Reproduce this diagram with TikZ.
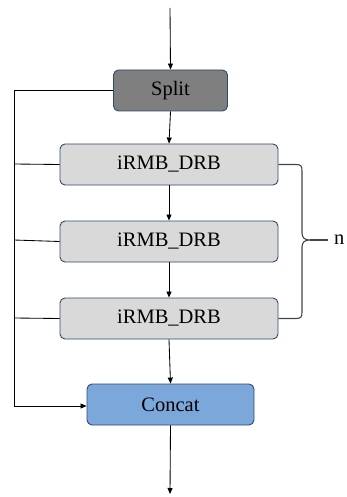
\documentclass[tikz,border=0pt]{standalone}
\usepackage{fontspec}
\setmainfont{Liberation Serif}
\usetikzlibrary{arrows.meta}
\definecolor{boxedge}{HTML}{2F4A6B}
\definecolor{splitfill}{HTML}{7F7F7F}
\definecolor{blockfill}{HTML}{D9D9D9}
\definecolor{concatfill}{HTML}{7CA7DB}
\definecolor{bracecol}{HTML}{454545}
\tikzset{
  x=1pt, y=-1pt,
  box/.style={draw=boxedge, line width=0.9pt, rounded corners=5pt,
    minimum height=41pt, inner sep=0pt,
    font=\fontsize{20.5}{24}\selectfont},
  flow/.style={line width=0.85pt, -{Triangle[length=6pt,width=5pt]}},
  plain/.style={line width=0.85pt},
  brace/.style={draw=bracecol, line width=1.1pt},
}
\begin{document}
\begin{tikzpicture}
\useasboundingbox (0,0) rectangle (346,497);

% blocks
\node[box, fill=splitfill, minimum width=114pt] (split) at (170.5,90.5) {Split};
\node[box, fill=blockfill, minimum width=218pt] (b1) at (169,164.5) {iRMB\_DRB};
\node[box, fill=blockfill, minimum width=218pt] (b2) at (169,241.5) {iRMB\_DRB};
\node[box, fill=blockfill, minimum width=218pt] (b3) at (169,318.5) {iRMB\_DRB};
\node[box, fill=concatfill, minimum width=167pt] (concat) at (170.5,404.5) {Concat};

% input and output
\coordinate (in) at (170,8);
\coordinate (out) at (170,494);
\draw[flow] (in) -- (split.north);
\draw[flow] (concat.south) -- (out);

% main chain
\draw[flow] (split.south) -- (b1.north);
\draw[flow] (b1.south) -- (b2.north);
\draw[flow] (b2.south) -- (b3.north);
\draw[flow] (b3.south) -- (concat.north);

% side path collecting every stage into Concat
\coordinate (ltop) at (14,90.5);
\coordinate (lbot) at (14,406);
\draw[plain] (split.west) -- (ltop) -- (lbot);
\draw[flow] (lbot) -- (concat.west |- lbot);
\draw[plain] (b1.west) -- (14,164);
\draw[plain] (b2.west) -- (14,240);
\draw[plain] (b3.west) -- (14,318);

% brace over the repeated blocks
\coordinate (tip) at (310,240);
\draw[brace] (b1.east) -- (296,164.5)
  .. controls (301,164.5) and (302,166) .. (302,171) -- (302,233)
  .. controls (302,238) and (305,240) .. (tip)
  .. controls (305,240) and (302,242) .. (302,247) -- (302,312)
  .. controls (302,317) and (301,318.5) .. (296,318.5) -- (b3.east);
\coordinate (tail) at (328,240);
\draw[brace] (tip) -- (tail);
\node[font=\fontsize{20.5}{24}\selectfont, anchor=west, inner sep=0pt] (n) at (334,240) {n};
\end{tikzpicture}
\end{document}
